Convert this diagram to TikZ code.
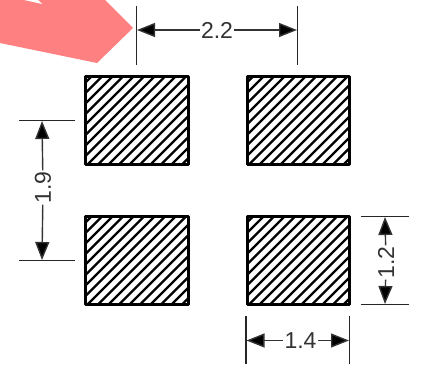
\documentclass[tikz,border=0pt]{standalone}
\usepackage{fontspec}
\setmainfont{Liberation Sans}
\usetikzlibrary{arrows.meta}
\tikzset{
  x=1pt,y=-1pt,
  padbox/.style={draw=black,line width=3pt,line join=round,outer sep=0pt},
  hatchline/.style={line width=2.4pt,black},
  extline/.style={draw=black!85,line width=1.4pt},
  dimline/.style={draw=black!80,line width=1.4pt,-{Triangle[length=18pt,width=14pt,fill=black]}},
  dimlabel/.style={font=\fontsize{23pt}{24pt}\selectfont,text=black!80,inner sep=0pt,minimum width=34pt,minimum height=16pt}
}
\newcommand{\hatchpad}[5]{%
  \begin{scope}
    \clip (#2,#3) rectangle (#4,#5);
    \foreach \k in {-12,...,30} {
      \draw[hatchline] ({#2+\k*10.5},#5+2) -- ++(100,-100);
    }
  \end{scope}
  \node[padbox,minimum width={#4-#2},minimum height={#5-#3},inner sep=0pt,anchor=north west] (#1) at (#2,#3) {};
}
\begin{document}
\begin{tikzpicture}
\useasboundingbox (0,0) rectangle (425,371);
\fill[white] (0,0) rectangle (425,371);
% coral arrow fragment
\fill[fill={rgb,255:red,255;green,128;blue,128}] (0,0) -- (105,0) -- (133,28) -- (97,63) -- (0,43) -- cycle;
\fill[white] (24,0) -- (42,4) -- (38,0) -- cycle;
% pads
\hatchpad{tl}{85.5}{76.5}{188.5}{164.5}
\hatchpad{tr}{247}{76.5}{349}{164.5}
\hatchpad{bl}{85.5}{216.5}{188.5}{304.5}
\hatchpad{br}{247}{216.5}{349}{304.5}
% extension end points
\coordinate (a1) at (136.5,6);
\coordinate (a2) at (136.5,65);
\coordinate (b1) at (297.5,6);
\coordinate (b2) at (297.5,65);
\coordinate (c1) at (19,120.5);
\coordinate (c2) at (75,120.5);
\coordinate (d1) at (19,260.5);
\coordinate (d2) at (75,260.5);
\coordinate (e1) at (361,216.5);
\coordinate (e2) at (409,216.5);
\coordinate (f1) at (361,304.5);
\coordinate (f2) at (409,304.5);
\coordinate (g1) at (246,316);
\coordinate (g2) at (246,364);
\coordinate (h1) at (349.5,316);
\coordinate (h2) at (349.5,364);
\foreach \p/\q in {a1/a2,b1/b2,c1/c2,d1/d2,e1/e2,f1/f2,g1/g2,h1/h2}
  \draw[extline] (\p) -- (\q);
% arrow tips on the extension lines
\coordinate (ta) at (137,30);
\coordinate (tb) at (297,30);
\coordinate (tc) at (42,121);
\coordinate (td) at (42,260);
\coordinate (te) at (385,217);
\coordinate (tf) at (385,304);
\coordinate (tg) at (246.5,340.5);
\coordinate (th) at (349,340.5);
% labels
\node[dimlabel] (l22) at (217,30) {2.2};
\node[dimlabel,rotate=90] (l19) at (43,187.5) {1.9};
\node[dimlabel,rotate=90] (l12) at (386,262.5) {1.2};
\node[dimlabel] (l14) at (300.5,340.5) {1.4};
% dimension arrows
\draw[dimline] (l22) -- (ta);
\draw[dimline] (l22) -- (tb);
\draw[dimline] (l19) -- (tc);
\draw[dimline] (l19) -- (td);
\draw[dimline] (l12) -- (te);
\draw[dimline] (l12) -- (tf);
\draw[dimline] (l14) -- (tg);
\draw[dimline] (l14) -- (th);
\end{tikzpicture}
\end{document}
